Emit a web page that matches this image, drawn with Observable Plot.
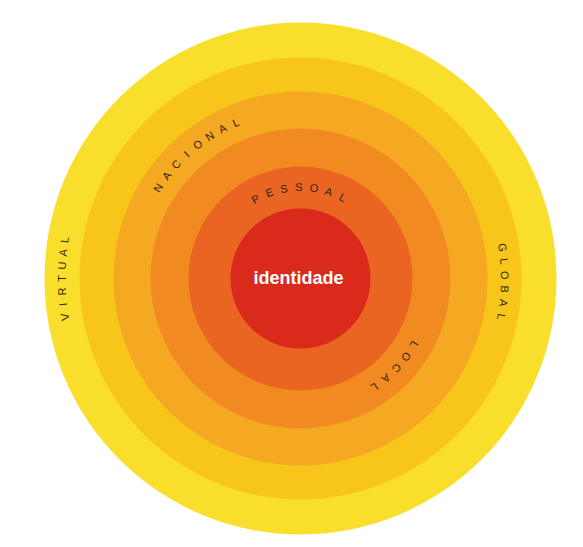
<!DOCTYPE html>
<html>
<head>
<meta charset="utf-8">
<script src="https://cdn.jsdelivr.net/npm/d3@7"></script>
<script src="https://cdn.jsdelivr.net/npm/@observablehq/plot@0.6"></script>
<style>
  html, body { margin: 0; padding: 0; background: #ffffff; }
  #chart svg { display: block; }
</style>
</head>
<body>
<div id="chart"></div>
<script>
// ---- data ----
const rings = ["VIRTUAL", "GLOBAL", "NACIONAL", "LOCAL", "PESSOAL", "identidade"];
const radii = [256, 221, 187, 150, 112, 70];
const ringColors = ["#f9df2b", "#f8c61b", "#f5a822", "#f28a22", "#ea6422", "#da2a1c"];
// angle (degrees, clockwise from top) at which each ring label is centred
const labelAngles = [270, 91, -40, 133, -1];
// angular step between letters (degrees)
const letterSteps = [3.1, 3.9, 5.0, 6.4, 9.5];
const centerLabel = "identidade";

// ---- layout ----
const W = 583, H = 547;
const CX = 300, CY = 278;

const ringData = rings.map((name, i) => ({name, r: radii[i], color: ringColors[i]}));

// letters of the curved ring labels, placed along the middle of each ring
const letters = [];
rings.slice(0, 5).forEach((name, i) => {
  const rMid = i < 5 ? (radii[i] + radii[i + 1]) / 2 : radii[i];
  const chars = Array.from(name);
  const n = chars.length;
  chars.forEach((ch, k) => {
    const a = labelAngles[i] + (k - (n - 1) / 2) * letterSteps[i];
    const rad = a * Math.PI / 180;
    letters.push({
      ch,
      x: CX + rMid * Math.sin(rad),
      y: CY - rMid * Math.cos(rad),
      rotate: a
    });
  });
});

const chart = Plot.plot({
  width: W,
  height: H,
  margin: 0,
  style: {background: "#ffffff"},
  x: {domain: [0, W], range: [0, W], axis: null},
  y: {domain: [0, H], range: [0, H], axis: null},
  r: {type: "identity"},
  color: {type: "identity"},
  marks: [
    Plot.dot(ringData, {
      x: () => CX,
      y: () => CY,
      r: "r",
      fill: "color",
      stroke: null,
      sort: null
    }),
    Plot.text(letters, {
      x: "x",
      y: "y",
      text: "ch",
      rotate: "rotate",
      fontSize: 11,
      fontFamily: "Liberation Sans, Arial, sans-serif",
      fill: "#2d2319"
    }),
    Plot.text([centerLabel], {
      x: () => CX - 2,
      y: () => CY,
      text: d => d,
      fontSize: 18,
      fontWeight: "bold",
      fontFamily: "Liberation Sans, Arial, sans-serif",
      fill: "#ffffff"
    })
  ]
});

document.getElementById("chart").appendChild(chart);
</script>
</body>
</html>
